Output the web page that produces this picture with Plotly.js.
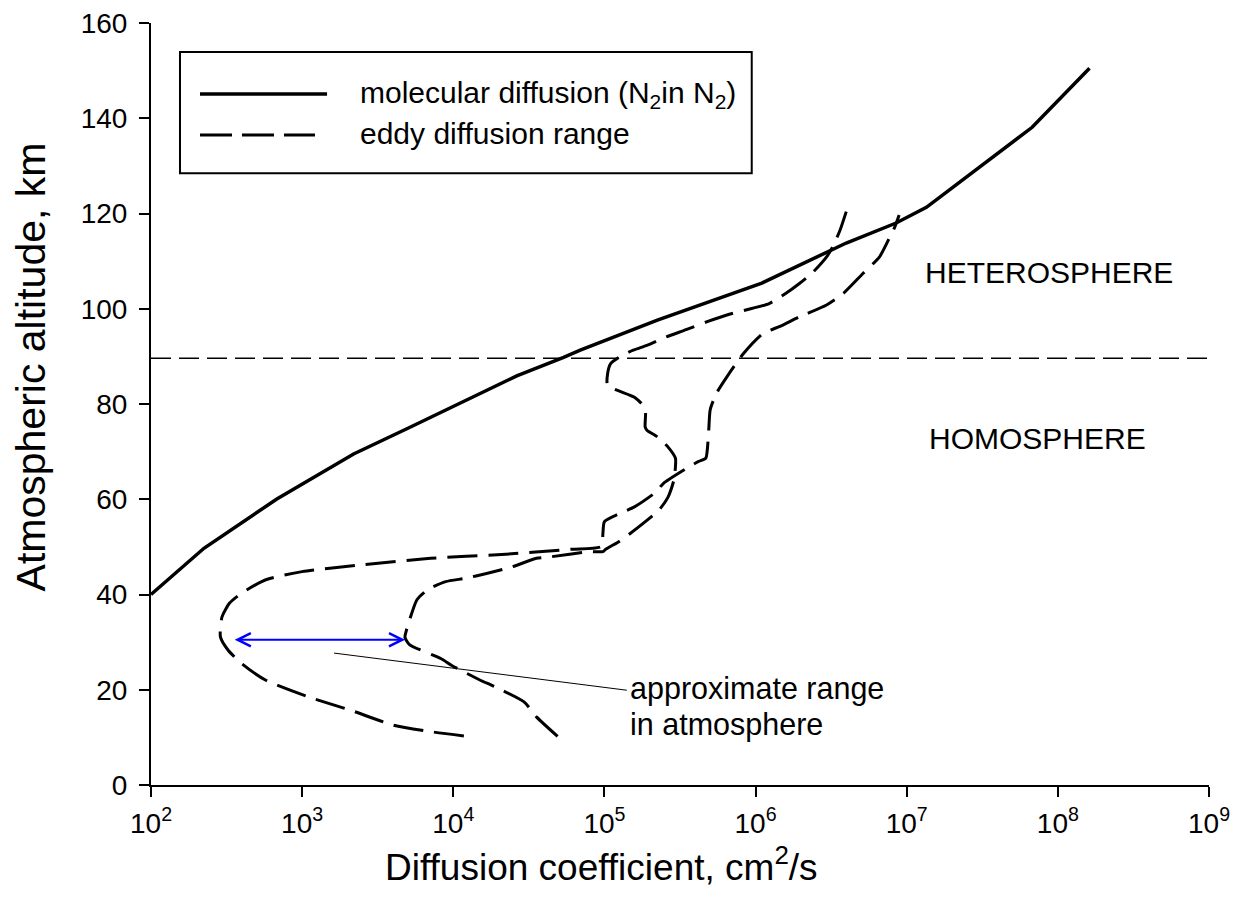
<!DOCTYPE html>
<html>
<head>
<meta charset="utf-8">
<script src="https://cdn.plot.ly/plotly-3.0.1.min.js"></script>
<style>html,body{margin:0;padding:0;background:#fff}#chart{width:1233px;height:914px}</style>
</head>
<body>
<div id="chart"></div>
<script>
// ---- data ----
const molecularD   = [100, 224, 676, 2190, 5010, 26300, 53700, 69200, 224000, 1.10e6, 3.98e6, 8.51e6, 1.35e7, 2.88e7, 6.76e7, 1.62e8];
const molecularAlt = [40, 49.7, 60.0, 69.5, 74.9, 85.9, 89.8, 91.3, 97.6, 105.4, 113.8, 118.0, 121.3, 129.1, 138.1, 150.5];

// eddy diffusion range: boundary that is widest (left) near 30 km and right-most at 120 km
const eddyOuterD   = [11750, 7080, 3980, 2090, 1100, 575, 398, 324, 288, 295, 331, 398, 575, 1000, 2450, 7080, 20900, 60300, 95500, 97700, 100000, 126000, 158000, 219000, 245000, 363000, 417000, 468000, 479000, 490000, 501000, 550000, 646000, 832000, 1.12e6, 1.45e6, 1.95e6, 2.95e6, 3.80e6, 5.13e6, 6.61e6, 7.94e6, 8.32e6, 8.91e6];
const eddyOuterAlt = [10.3, 11.2, 12.6, 15.7, 18.5, 22.0, 25.5, 28.3, 31.1, 35.3, 38.2, 40.3, 43.1, 44.8, 46.2, 47.6, 48.4, 49.5, 50.1, 52.8, 55.3, 57.0, 58.4, 61.5, 63.3, 66.8, 67.9, 68.6, 70.3, 74.5, 78.8, 82.2, 85.7, 90.6, 94.8, 96.3, 98.3, 100.8, 103.2, 107.4, 110.9, 115.8, 117.1, 119.7];

// the other boundary
const eddyInnerD   = [49000, 35500, 29500, 18600, 15100, 9770, 8320, 5130, 4790, 4900, 5130, 5750, 6760, 8910, 12000, 16600, 24500, 35500, 43700, 79400, 97700, 102000, 126000, 148000, 229000, 263000, 288000, 295000, 295000, 263000, 224000, 191000, 186000, 186000, 158000, 105000, 105000, 110000, 126000, 155000, 191000, 257000, 347000, 479000, 646000, 955000, 1.23e6, 1.58e6, 1.95e6, 2.40e6, 2.95e6, 3.24e6, 3.63e6, 3.98e6];
const eddyInnerAlt = [10.2, 14.3, 17.4, 20.7, 22.0, 25.1, 26.5, 29.5, 31.0, 32.5, 34.6, 38.9, 41.0, 42.7, 43.4, 44.4, 45.8, 47.6, 47.9, 49.0, 49.0, 49.5, 51.2, 52.8, 57.7, 60.4, 64.0, 66.8, 68.6, 71.0, 73.1, 74.5, 75.2, 79.1, 81.4, 83.9, 86.4, 88.5, 89.9, 91.3, 92.3, 94.1, 95.6, 97.3, 98.7, 100.1, 101.1, 103.2, 105.3, 107.7, 110.9, 113.0, 116.6, 120.4];

const boundaryD   = [100, 1e9];
const boundaryAlt = [89.6, 89.6];

const rangeArrowD   = [350, 4800];
const rangeArrowAlt = 30.5;

const pointerD   = [1626, 140600];
const pointerAlt = [27.7, 19.9];

const xTickVals = [1e2, 1e3, 1e4, 1e5, 1e6, 1e7, 1e8, 1e9];
const xTickText = ['10<sup>2</sup>', '10<sup>3</sup>', '10<sup>4</sup>', '10<sup>5</sup>', '10<sup>6</sup>', '10<sup>7</sup>', '10<sup>8</sup>', '10<sup>9</sup>'];
const yTickVals = [0, 20, 40, 60, 80, 100, 120, 140, 160];

const xTitle = 'Diffusion coefficient, cm<sup>2</sup>/s';
const yTitle = 'Atmospheric altitude, km';
const legendLabels = ['molecular diffusion (N<sub>2</sub>in N<sub>2</sub>)', 'eddy diffusion range'];
const regionLabels = ['HETEROSPHERE', 'HOMOSPHERE'];
const regionD   = [8.77e7, 7.37e7];
const regionAlt = [107.7, 72.8];
const noteLines = ['approximate range', 'in atmosphere'];
const noteD   = 146000;
const noteAlt = [20.2, 12.7];

// ---- chart ----
const FONT = 'Liberation Sans, Arial, sans-serif';
const dashStyle = '30px,11px';
const txt = (s) => ({family: FONT, size: s, color: '#000'});

const traces = [
  {x: boundaryD, y: boundaryAlt, mode: 'lines', line: {color: '#000', width: 1.5, dash: '20px,8px'}, hoverinfo: 'skip'},
  {x: molecularD, y: molecularAlt, mode: 'lines', line: {color: '#000', width: 3.5}, name: 'molecular'},
  {x: eddyOuterD, y: eddyOuterAlt, mode: 'lines', line: {color: '#000', width: 3, dash: dashStyle, shape: 'spline', smoothing: 0.6}, name: 'eddy 1'},
  {x: eddyInnerD, y: eddyInnerAlt, mode: 'lines', line: {color: '#000', width: 3, dash: dashStyle, shape: 'spline', smoothing: 0.6}, name: 'eddy 2'},
  {x: pointerD, y: pointerAlt, mode: 'lines', line: {color: '#000', width: 1}, hoverinfo: 'skip'}
];

const annotations = [
  {x: Math.log10(rangeArrowD[1]), y: rangeArrowAlt, ax: Math.log10(rangeArrowD[0]), ay: rangeArrowAlt,
   xref: 'x', yref: 'y', axref: 'x', ayref: 'y', text: '', showarrow: true,
   arrowhead: 5, startarrowhead: 5, arrowside: 'end+start', arrowsize: 1.3, startarrowsize: 1.3,
   arrowwidth: 2, arrowcolor: '#0000ff', standoff: 0, startstandoff: 0},
  {x: Math.log10(noteD), y: noteAlt[0], xref: 'x', yref: 'y', text: noteLines[0], showarrow: false, xanchor: 'left', yanchor: 'middle', borderpad: 0, font: txt(30.5)},
  {x: Math.log10(noteD), y: noteAlt[1], xref: 'x', yref: 'y', text: noteLines[1], showarrow: false, xanchor: 'left', yanchor: 'middle', borderpad: 0, font: txt(30.5)},
  {x: Math.log10(regionD[0]), y: regionAlt[0], xref: 'x', yref: 'y', text: regionLabels[0], showarrow: false, xanchor: 'center', yanchor: 'middle', font: txt(30)},
  {x: Math.log10(regionD[1]), y: regionAlt[1], xref: 'x', yref: 'y', text: regionLabels[1], showarrow: false, xanchor: 'center', yanchor: 'middle', font: txt(30)},
  {x: 0.1957, y: 0.9067, xref: 'paper', yref: 'paper', text: legendLabels[0], showarrow: false, xanchor: 'left', yanchor: 'middle', font: txt(30)},
  {x: 0.1957, y: 0.855, xref: 'paper', yref: 'paper', text: legendLabels[1], showarrow: false, xanchor: 'left', yanchor: 'middle', font: txt(30)},
  {x: 0.426, y: -0.1045, xref: 'paper', yref: 'paper', text: xTitle, showarrow: false, xanchor: 'center', yanchor: 'middle', font: txt(37)},
  {x: -0.1134, y: 0.548, xref: 'paper', yref: 'paper', text: yTitle, showarrow: false, textangle: -90, xanchor: 'center', yanchor: 'middle', font: txt(41)}
];

const shapes = [
  {type: 'rect', xref: 'paper', yref: 'paper', x0: 0.0274, x1: 0.5678, y0: 0.8028, y1: 0.962, line: {color: '#000', width: 2}, fillcolor: 'rgba(0,0,0,0)'},
  {type: 'line', xref: 'paper', yref: 'paper', x0: 0.0463, x1: 0.1664, y0: 0.9067, y1: 0.9067, line: {color: '#000', width: 3.5}},
  {type: 'line', xref: 'paper', yref: 'paper', x0: 0.0463, x1: 0.155, y0: 0.853, y1: 0.853, line: {color: '#000', width: 3, dash: '32px,10px'}}
];

const layout = {
  width: 1233, height: 914,
  margin: {l: 151, r: 24, t: 23, b: 129},
  paper_bgcolor: '#fff', plot_bgcolor: '#fff',
  showlegend: false,
  font: {family: FONT, color: '#000'},
  xaxis: {
    type: 'log', range: [2, 9], tickvals: xTickVals, ticktext: xTickText,
    showgrid: false, zeroline: false, showline: true, linecolor: '#000', linewidth: 2,
    ticks: 'outside', ticklen: 10, tickwidth: 2, tickcolor: '#000', ticklabelstandoff: 2,
    tickfont: txt(28), automargin: false
  },
  yaxis: {
    range: [0, 160], tickvals: yTickVals,
    showgrid: false, zeroline: false, showline: true, linecolor: '#000', linewidth: 2,
    ticks: 'outside', ticklen: 10, tickwidth: 2, tickcolor: '#000',
    tickfont: txt(28), automargin: false, ticklabelstandoff: 6
  },
  annotations: annotations,
  shapes: shapes
};

Plotly.newPlot('chart', traces, layout, {staticPlot: true, displayModeBar: false});
</script>
</body>
</html>
